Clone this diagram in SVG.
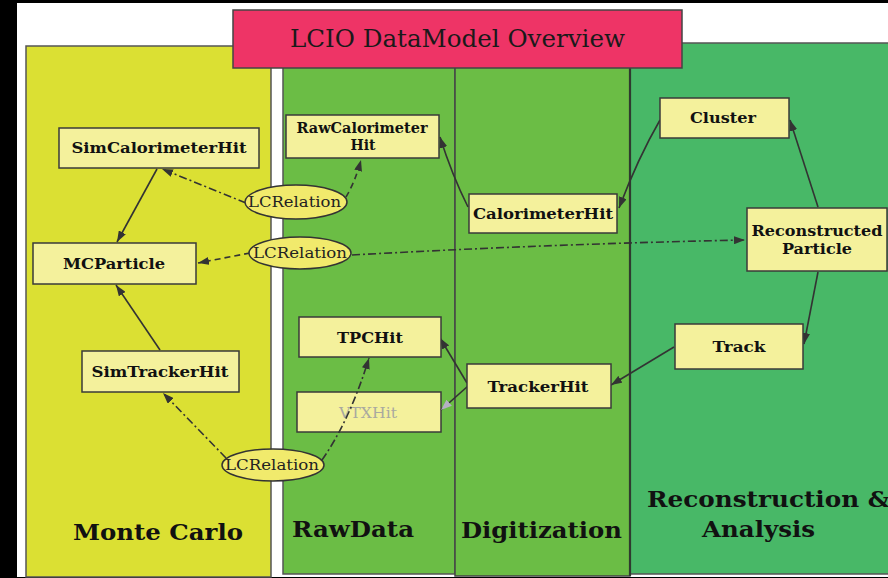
<svg xmlns="http://www.w3.org/2000/svg" width="888" height="578" viewBox="0 0 888 578">
  <style>
    .panel { stroke: #555; stroke-width: 1.5; }
    .node rect { fill: #f4f19c; stroke: #3a3a3a; stroke-width: 1.5; }
    .node text { font-family: "DejaVu Serif", "Liberation Serif", serif; font-weight: bold; font-size: 15px; fill: #111; text-anchor: middle; }
    .rel ellipse { fill: #f1ea6c; stroke: #333; stroke-width: 1.5; }
    .rel text { font-family: "DejaVu Serif", "Liberation Serif", serif; font-size: 14.5px; fill: #222; }
    .label { font-family: "DejaVu Serif", "Liberation Serif", serif; font-weight: bold; font-size: 22px; fill: #111; }
    .edge { fill: none; stroke: #333; stroke-width: 1.6; }
    .dashdot { stroke-dasharray: 8 3 2 3; }
    .dashed { stroke-dasharray: 6 4; }
  </style>
  <defs>
    <marker id="arrow" markerUnits="userSpaceOnUse" markerWidth="11" markerHeight="8" viewBox="0 0 11 8" refX="11" refY="4" orient="auto">
      <path d="M0,0 L11,4 L0,8 z" fill="#333"/>
    </marker>
    <marker id="arrowGray" markerUnits="userSpaceOnUse" markerWidth="11" markerHeight="8" viewBox="0 0 11 8" refX="11" refY="4" orient="auto">
      <path d="M0,0 L11,4 L0,8 z" fill="#b4b0c4"/>
    </marker>
  </defs>

  <!-- frame -->
  <rect x="0" y="0" width="888" height="578" fill="#000"/>
  <rect x="17" y="3" width="871" height="574" fill="#fff"/>

  <!-- swim lanes -->
  <g id="lane-montecarlo">
    <rect class="panel" x="26" y="46" width="245" height="531" fill="#dbe033"/>
    <text class="label" x="73" y="540" textLength="170" lengthAdjust="spacingAndGlyphs">Monte Carlo</text>
  </g>
  <g id="lane-reco">
    <rect class="panel" x="630" y="43" width="262" height="531" fill="#48b867"/>
    <text class="label" x="647" y="507" textLength="243" lengthAdjust="spacingAndGlyphs">Reconstruction &amp;</text>
    <text class="label" x="702" y="537" textLength="113" lengthAdjust="spacingAndGlyphs">Analysis</text>
  </g>
  <g id="lane-rawdata">
    <rect class="panel" x="283" y="46" width="172" height="528" fill="#6bbd45"/>
    <text class="label" x="292" y="537" textLength="122" lengthAdjust="spacingAndGlyphs">RawData</text>
  </g>
  <g id="lane-digitization">
    <rect x="455" y="46" width="175" height="530" fill="#6bbd45" stroke="#444" stroke-width="1.5"/>
    <line x1="630" y1="46" x2="630" y2="576" stroke="#2f3a2f" stroke-width="2.2"/>
    <text class="label" x="461" y="538" textLength="161" lengthAdjust="spacingAndGlyphs">Digitization</text>
  </g>

  <!-- title -->
  <g id="title">
    <rect x="233" y="10" width="449" height="58" fill="#ee3466" stroke="#444" stroke-width="1.5"/>
    <text x="290" y="47" font-family="DejaVu Serif, Liberation Serif, serif" font-size="25" fill="#1a1a1a" textLength="335" lengthAdjust="spacingAndGlyphs">LCIO DataModel Overview</text>
  </g>

  <!-- VTXHit sits underneath the relation line that crosses it -->
  <g id="VTXHit" class="node">
    <rect x="297" y="392" width="144" height="40"/>
    <text x="368" y="418" style="font-weight:normal;fill:#a9a9a0" textLength="58" lengthAdjust="spacingAndGlyphs">VTXHit</text>
  </g>

  <!-- connectors -->
  <g id="connectors">
    <path class="edge" d="M157,169 L117,242" marker-end="url(#arrow)"/>
    <path class="edge" d="M160,350 L116,285" marker-end="url(#arrow)"/>
    <path class="edge dashdot" d="M246,203 L162,169" marker-end="url(#arrow)"/>
    <path class="edge dashed" d="M346,197 Q355,182 361,160" marker-end="url(#arrow)"/>
    <path class="edge dashed" d="M250,253 L198,263" marker-end="url(#arrow)"/>
    <path class="edge dashdot" d="M352,255 Q550,244 745,240" marker-end="url(#arrow)"/>
    <path class="edge dashdot" d="M226,458 L163,393" marker-end="url(#arrow)"/>
    <path class="edge dashdot" d="M322,460 Q350,420 369,358" marker-end="url(#arrow)"/>
    <path class="edge" d="M468,207 Q452,175 440,137" marker-end="url(#arrow)"/>
    <path class="edge" d="M660,120 Q638,158 619,208" marker-end="url(#arrow)"/>
    <path class="edge" d="M818,207 L790,120" marker-end="url(#arrow)"/>
    <path class="edge" d="M818,272 L804,344" marker-end="url(#arrow)"/>
    <path class="edge" d="M674,347 L611,385" marker-end="url(#arrow)"/>
    <path class="edge" d="M467,383 L440,338" marker-end="url(#arrow)"/>
    <path class="edge" d="M468,386 L441,410" stroke="#b4b0c4" marker-end="url(#arrowGray)"/>
  </g>

  <!-- data classes -->
  <g id="SimCalorimeterHit" class="node">
    <rect x="59" y="128" width="200" height="40"/>
    <text x="159" y="153" textLength="175" lengthAdjust="spacingAndGlyphs">SimCalorimeterHit</text>
  </g>
  <g id="MCParticle" class="node">
    <rect x="33" y="243" width="163" height="41"/>
    <text x="114" y="269" textLength="102" lengthAdjust="spacingAndGlyphs">MCParticle</text>
  </g>
  <g id="SimTrackerHit" class="node">
    <rect x="82" y="351" width="157" height="41"/>
    <text x="160" y="377" textLength="137" lengthAdjust="spacingAndGlyphs">SimTrackerHit</text>
  </g>
  <g id="RawCalorimeterHit" class="node">
    <rect x="286" y="115" width="153" height="43"/>
    <text x="362" y="133" textLength="131" lengthAdjust="spacingAndGlyphs">RawCalorimeter</text>
    <text x="363" y="150" textLength="25" lengthAdjust="spacingAndGlyphs">Hit</text>
  </g>
  <g id="TPCHit" class="node">
    <rect x="299" y="317" width="142" height="40"/>
    <text x="370" y="343" textLength="66" lengthAdjust="spacingAndGlyphs">TPCHit</text>
  </g>
  <g id="CalorimeterHit" class="node">
    <rect x="469" y="194" width="148" height="39"/>
    <text x="543" y="219" textLength="140" lengthAdjust="spacingAndGlyphs">CalorimeterHit</text>
  </g>
  <g id="TrackerHit" class="node">
    <rect x="467" y="364" width="144" height="44"/>
    <text x="538" y="392" textLength="101" lengthAdjust="spacingAndGlyphs">TrackerHit</text>
  </g>
  <g id="Cluster" class="node">
    <rect x="660" y="98" width="129" height="40"/>
    <text x="723" y="123" textLength="66" lengthAdjust="spacingAndGlyphs">Cluster</text>
  </g>
  <g id="ReconstructedParticle" class="node">
    <rect x="747" y="208" width="140" height="63"/>
    <text x="817" y="236" textLength="131" lengthAdjust="spacingAndGlyphs">Reconstructed</text>
    <text x="817" y="254" textLength="70" lengthAdjust="spacingAndGlyphs">Particle</text>
  </g>
  <g id="Track" class="node">
    <rect x="675" y="324" width="128" height="45"/>
    <text x="739" y="352" textLength="53" lengthAdjust="spacingAndGlyphs">Track</text>
  </g>

  <!-- relation objects -->
  <g id="LCRelation-calo" class="rel">
    <ellipse cx="296" cy="202" rx="51" ry="17"/>
    <text x="248" y="207" textLength="93" lengthAdjust="spacingAndGlyphs">LCRelation</text>
  </g>
  <g id="LCRelation-particle" class="rel">
    <ellipse cx="300" cy="253" rx="51" ry="16"/>
    <text x="253" y="258" textLength="94" lengthAdjust="spacingAndGlyphs">LCRelation</text>
  </g>
  <g id="LCRelation-tracker" class="rel">
    <ellipse cx="273" cy="465" rx="51" ry="16"/>
    <text x="225" y="470" textLength="94" lengthAdjust="spacingAndGlyphs">LCRelation</text>
  </g>
</svg>
